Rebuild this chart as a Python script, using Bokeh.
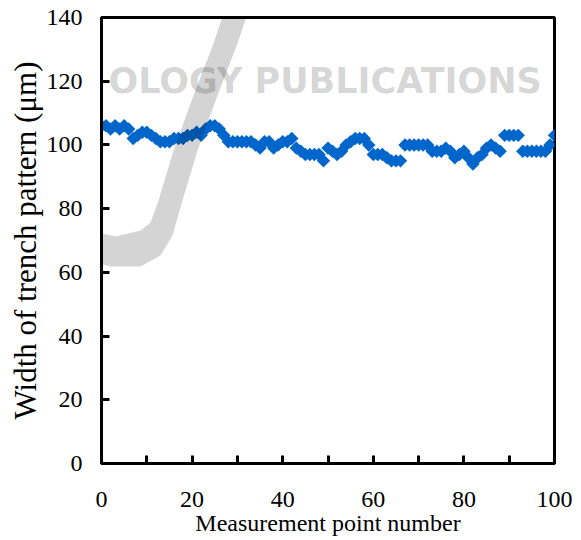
import math
from bokeh.plotting import figure
from bokeh.models import FixedTicker, Label, PolyAnnotation
from bokeh.embed import file_html
from bokeh.resources import INLINE

# ---- data -----------------------------------------------------------------
point_number = list(range(101))
trench_width = [
    106, 106, 105, 106, 105, 106, 105, 102, 103, 104,
    104, 103, 102, 101, 101, 101, 102, 102, 102, 103,
    103, 104, 103, 105, 106, 106, 105, 103, 101, 101,
    101, 101, 101, 101, 100, 99, 101, 101, 99, 100,
    101, 101, 102, 99, 98, 97, 97, 97, 97, 95,
    99, 98, 97, 98, 100, 101, 102, 102, 102, 100,
    97, 97, 97, 96, 95, 95, 95, 100, 100, 100,
    100, 100, 100, 98, 98, 98, 99, 98, 96, 97,
    98, 96, 94, 96, 97, 99, 100, 99, 98, 103,
    103, 103, 103, 98, 98, 98, 98, 98, 98, 100,
    103,
]
x_ticks = [0, 20, 40, 60, 80, 100]
x_minor_ticks = [10, 30, 50, 70, 90]
y_ticks = [0, 20, 40, 60, 80, 100, 120, 140]

FONT = "Liberation Serif"

p = figure(width=581, height=540, x_range=(0, 100), y_range=(0, 140),
           output_backend="svg", toolbar_location=None,
           min_border_left=101, min_border_right=27,
           min_border_top=17, min_border_bottom=77)
p.xgrid.visible = False
p.ygrid.visible = False
p.outline_line_color = "black"
p.outline_line_width = 3
p.outline_line_alpha = 1.0

for ax in (p.xaxis[0], p.yaxis[0]):
    ax.axis_line_width = 3
    ax.major_tick_in = 8
    ax.major_tick_out = 0
    ax.major_tick_line_width = 3
    ax.minor_tick_in = 8
    ax.minor_tick_out = 0
    ax.minor_tick_line_width = 3
    ax.major_label_text_font = FONT
    ax.major_label_text_font_size = "24px"
    ax.major_label_text_color = "black"
    ax.axis_label_text_font = FONT
    ax.axis_label_text_font_style = "normal"
    ax.axis_label_text_color = "black"

xa = p.xaxis[0]
xa.ticker = FixedTicker(ticks=x_ticks, minor_ticks=x_minor_ticks)
xa.major_label_standoff = 28
xa.axis_label = "Measurement point number"
xa.axis_label_text_font_size = "24px"
xa.axis_label_standoff = 0

ya = p.yaxis[0]
ya.ticker = FixedTicker(ticks=y_ticks)
ya.minor_tick_line_color = None
ya.major_label_standoff = 19
ya.axis_label = "Width of trench pattern (\u03bcm)"
ya.axis_label_text_font_size = "31px"
ya.axis_label_standoff = 1

p.scatter(point_number, trench_width, marker="square", angle=math.pi / 4,
          size=9.5, fill_color="#0066cc", line_color=None)

# ---- faint publisher watermark ------------------------------------------
def dx(px):
    return (px - 101) / 4.53

def dy(py):
    return (463 - py) / 3.186

swoosh_px = [(226, 0), (251, 0), (247, 13), (237, 43), (217, 95), (197, 150),
             (182, 200), (172, 235), (160, 255), (140, 266), (110, 266),
             (80, 258), (40, 235), (0, 195), (0, 165), (40, 205), (80, 228),
             (115, 236), (140, 230), (150, 222), (158, 200), (173, 150),
             (193, 95), (213, 43), (223, 13)]
p.add_layout(PolyAnnotation(xs=[dx(a) for a, b in swoosh_px],
                            ys=[dy(b) for a, b in swoosh_px],
                            fill_color="black", fill_alpha=0.17,
                            line_color=None))
p.add_layout(Label(x=dx(108), y=dy(80), text="OLOGY PUBLICATIONS",
                   text_font="DejaVu Sans", text_font_style="bold",
                   text_font_size="35px", text_color="black", text_alpha=0.18,
                   text_align="left", text_baseline="alphabetic"))

open("out.html", "w").write(file_html(p, INLINE))
